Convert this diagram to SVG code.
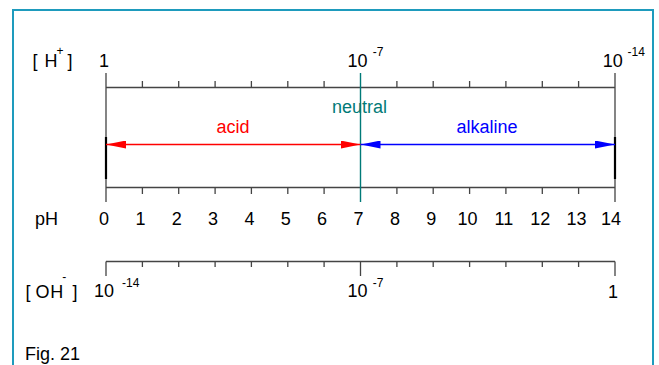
<svg xmlns="http://www.w3.org/2000/svg" width="659" height="365" viewBox="0 0 659 365">
<defs>
<style>
text{font-family:"Liberation Sans",Arial,sans-serif;font-size:18px;fill:#000}
.sup{font-size:12px}
.mid{text-anchor:middle}
.ax{stroke:#444;stroke-width:1.3;fill:none}
.end{stroke:#000;stroke-width:2.2}
.neu{stroke:#007a78;stroke-width:1.4}
</style>
<marker id="ahR" viewBox="0 0 20 8" refX="20" refY="4" markerWidth="20" markerHeight="8" markerUnits="userSpaceOnUse" orient="auto-start-reverse"><path d="M0,0 L20,4 L0,8 Z" fill="#ff0000"/></marker>
<marker id="ahB" viewBox="0 0 20 8" refX="20" refY="4" markerWidth="20" markerHeight="8" markerUnits="userSpaceOnUse" orient="auto-start-reverse"><path d="M0,0 L20,4 L0,8 Z" fill="#0000ff"/></marker>
</defs>
<rect width="659" height="365" fill="#fff"/>
<rect id="frame" x="13" y="10" width="640" height="400" fill="none" stroke="#1e9bbd" stroke-width="2"/>

<g id="h-axis">
<path class="ax" d="M106,87.5H615 M106,73V202 M615,73V202 M142.4,81V87.5 M178.7,81V87.5 M215.1,81V87.5 M251.4,81V87.5 M287.8,81V87.5 M324.1,81V87.5 M396.9,81V87.5 M433.2,81V87.5 M469.6,81V87.5 M505.9,81V87.5 M542.3,81V87.5 M578.6,81V87.5"/>
<text x="32.5" y="67">[</text><text x="44.5" y="67">H</text><text class="sup" x="56.5" y="54.5">+</text><text x="67.5" y="67">]</text>
<text class="mid" x="104" y="67">1</text>
<text class="mid" x="357.5" y="67">10</text><text class="sup" x="372.7" y="56">-7</text>
<text class="mid" x="612.8" y="67">10</text><text class="sup" x="627.5" y="55.5">-14</text>
</g>

<g id="ph-axis">
<path class="ax" d="M106,187.5H615 M142.4,187.5V194 M178.7,187.5V194 M215.1,187.5V194 M251.4,187.5V194 M287.8,187.5V194 M324.1,187.5V194 M396.9,187.5V194 M433.2,187.5V194 M469.6,187.5V194 M505.9,187.5V194 M542.3,187.5V194 M578.6,187.5V194"/>
<path class="end" d="M106,137V179 M615,137V179"/>
<text x="35" y="224.5">pH</text>
<text class="mid" x="104" y="224.5">0</text>
<text class="mid" x="140.4" y="224.5">1</text>
<text class="mid" x="176.7" y="224.5">2</text>
<text class="mid" x="213.1" y="224.5">3</text>
<text class="mid" x="249.4" y="224.5">4</text>
<text class="mid" x="285.8" y="224.5">5</text>
<text class="mid" x="322.1" y="224.5">6</text>
<text class="mid" x="358.5" y="224.5">7</text>
<text class="mid" x="394.9" y="224.5">8</text>
<text class="mid" x="431.2" y="224.5">9</text>
<text class="mid" x="467.6" y="224.5">10</text>
<text class="mid" x="503.9" y="224.5">11</text>
<text class="mid" x="540.3" y="224.5">12</text>
<text class="mid" x="576.6" y="224.5">13</text>
<text class="mid" x="611" y="224.5">14</text>
</g>

<g id="neutral">
<path class="neu" d="M360.5,73V202"/>
<text class="mid" x="359.5" y="113" fill="#007a78" style="fill:#007a78">neutral</text>
</g>

<g id="oh-axis">
<path class="ax" d="M106,261.5H615 M106,261.5V276 M360.5,261.5V276 M615,261.5V276 M142.4,261.5V267 M178.7,261.5V267 M215.1,261.5V267 M251.4,261.5V267 M287.8,261.5V267 M324.1,261.5V267 M396.9,261.5V267 M433.2,261.5V267 M469.6,261.5V267 M505.9,261.5V267 M542.3,261.5V267 M578.6,261.5V267"/>
<text x="25.5" y="297.5">[</text><text x="35.5" y="297.5">O</text><text x="50.3" y="297.5">H</text><text class="sup" x="62.3" y="280.5">-</text><text x="72.5" y="297.5">]</text>
<text class="mid" x="104" y="297">10</text><text class="sup" x="122" y="286.5">-14</text>
<text class="mid" x="357.5" y="297">10</text><text class="sup" x="372.7" y="286.5">-7</text>
<text class="mid" x="613" y="297.5">1</text>
</g>

<g id="connectors">
<line x1="106" y1="144.5" x2="360.5" y2="144.5" stroke="#ff0000" stroke-width="1.3" marker-start="url(#ahR)" marker-end="url(#ahR)"/>
<line x1="360.5" y1="144.5" x2="615" y2="144.5" stroke="#0000ff" stroke-width="1.3" marker-start="url(#ahB)" marker-end="url(#ahB)"/>
</g>

<g id="acid"><text class="mid" x="233" y="133" style="fill:#ff0000">acid</text></g>
<g id="alkaline"><text class="mid" x="487" y="133" style="fill:#0000ff">alkaline</text></g>
<g id="caption"><text x="25" y="360">Fig. 21</text></g>
</svg>
